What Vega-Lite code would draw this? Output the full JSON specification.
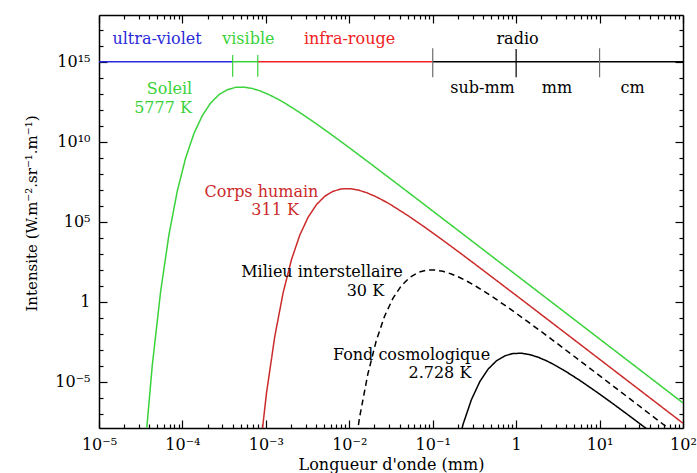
{
  "$schema": "https://vega.github.io/schema/vega-lite/v6.json",
  "width": 584,
  "height": 413,
  "autosize": "none",
  "padding": {"left": 99, "top": 15, "right": 14, "bottom": 45},
  "background": "white",
  "config": {
    "font": "DejaVu Serif",
    "view": {"stroke": null},
    "axis": {
      "grid": false,
      "domainColor": "#000000",
      "domainWidth": 1.5,
      "tickColor": "#000000",
      "tickWidth": 1.2,
      "labelColor": "#000000",
      "titleColor": "#000000",
      "labelFont": "DejaVu Serif",
      "titleFont": "DejaVu Serif",
      "labelFontSize": 16,
      "titleFontSize": 16,
      "titleFontWeight": "normal"
    }
  },
  "datasets": {
    "curves": [
      {"body": "Soleil", "lambda_mm": 3.454e-5, "intensity": 1.168e-10},
      {"body": "Soleil", "lambda_mm": 4.348e-5, "intensity": 1.020e-4},
      {"body": "Soleil", "lambda_mm": 5.474e-5, "intensity": 4.212},
      {"body": "Soleil", "lambda_mm": 6.891e-5, "intensity": 1.543e4},
      {"body": "Soleil", "lambda_mm": 8.676e-5, "intensity": 8.25e6},
      {"body": "Soleil", "lambda_mm": 1.0922e-4, "intensity": 9.58e8},
      {"body": "Soleil", "lambda_mm": 1.375e-4, "intensity": 3.30e10},
      {"body": "Soleil", "lambda_mm": 1.731e-4, "intensity": 4.32e11},
      {"body": "Soleil", "lambda_mm": 2.1792e-4, "intensity": 2.64e12},
      {"body": "Soleil", "lambda_mm": 2.7435e-4, "intensity": 8.74e12},
      {"body": "Soleil", "lambda_mm": 3.4539e-4, "intensity": 1.79e13},
      {"body": "Soleil", "lambda_mm": 4.3481e-4, "intensity": 2.50e13},
      {"body": "Soleil", "lambda_mm": 5.4739e-4, "intensity": 2.59e13},
      {"body": "Soleil", "lambda_mm": 6.8913e-4, "intensity": 2.12e13},
      {"body": "Soleil", "lambda_mm": 8.6756e-4, "intensity": 1.46e13},
      {"body": "Soleil", "lambda_mm": 1.0922e-3, "intensity": 8.73e12},
      {"body": "Soleil", "lambda_mm": 1.375e-3, "intensity": 4.74e12},
      {"body": "Soleil", "lambda_mm": 1.731e-3, "intensity": 2.38e12},
      {"body": "Soleil", "lambda_mm": 2.1792e-3, "intensity": 1.13e12},
      {"body": "Soleil", "lambda_mm": 2.7435e-3, "intensity": 5.18e11},
      {"body": "Soleil", "lambda_mm": 3.4539e-3, "intensity": 2.29e11},
      {"body": "Soleil", "lambda_mm": 4.3481e-3, "intensity": 9.91e10},
      {"body": "Soleil", "lambda_mm": 5.4739e-3, "intensity": 4.21e10},
      {"body": "Soleil", "lambda_mm": 6.8913e-3, "intensity": 1.76e10},
      {"body": "Soleil", "lambda_mm": 8.6756e-3, "intensity": 7.29e9},
      {"body": "Soleil", "lambda_mm": 1.0922e-2, "intensity": 2.99e9},
      {"body": "Soleil", "lambda_mm": 1.375e-2, "intensity": 1.22e9},
      {"body": "Soleil", "lambda_mm": 1.731e-2, "intensity": 4.95e8},
      {"body": "Soleil", "lambda_mm": 5.4739e-2, "intensity": 5.21e6},
      {"body": "Soleil", "lambda_mm": 0.1731, "intensity": 5.29e4},
      {"body": "Soleil", "lambda_mm": 0.54739, "intensity": 531.5},
      {"body": "Soleil", "lambda_mm": 1.731, "intensity": 5.323},
      {"body": "Soleil", "lambda_mm": 5.4739, "intensity": 5.327e-2},
      {"body": "Soleil", "lambda_mm": 17.31, "intensity": 5.327e-4},
      {"body": "Soleil", "lambda_mm": 54.739, "intensity": 5.327e-6},
      {"body": "Soleil", "lambda_mm": 100, "intensity": 4.782e-7},

      {"body": "Corps humain", "lambda_mm": 8.077e-4, "intensity": 4.612e-11},
      {"body": "Corps humain", "lambda_mm": 1.0168e-3, "intensity": 1.905e-6},
      {"body": "Corps humain", "lambda_mm": 1.2801e-3, "intensity": 6.982e-3},
      {"body": "Corps humain", "lambda_mm": 1.6115e-3, "intensity": 3.731},
      {"body": "Corps humain", "lambda_mm": 2.0288e-3, "intensity": 433.4},
      {"body": "Corps humain", "lambda_mm": 2.5541e-3, "intensity": 1.492e4},
      {"body": "Corps humain", "lambda_mm": 3.2154e-3, "intensity": 1.953e5},
      {"body": "Corps humain", "lambda_mm": 4.0479e-3, "intensity": 1.193e6},
      {"body": "Corps humain", "lambda_mm": 5.0961e-3, "intensity": 3.952e6},
      {"body": "Corps humain", "lambda_mm": 6.4157e-3, "intensity": 8.087e6},
      {"body": "Corps humain", "lambda_mm": 8.0768e-3, "intensity": 1.132e7},
      {"body": "Corps humain", "lambda_mm": 1.0168e-2, "intensity": 1.171e7},
      {"body": "Corps humain", "lambda_mm": 1.2801e-2, "intensity": 9.596e6},
      {"body": "Corps humain", "lambda_mm": 1.6115e-2, "intensity": 6.582e6},
      {"body": "Corps humain", "lambda_mm": 2.0288e-2, "intensity": 3.947e6},
      {"body": "Corps humain", "lambda_mm": 2.5541e-2, "intensity": 2.141e6},
      {"body": "Corps humain", "lambda_mm": 3.2154e-2, "intensity": 1.078e6},
      {"body": "Corps humain", "lambda_mm": 5.0961e-2, "intensity": 2.344e5},
      {"body": "Corps humain", "lambda_mm": 8.0768e-2, "intensity": 4.482e4},
      {"body": "Corps humain", "lambda_mm": 0.12801, "intensity": 7962},
      {"body": "Corps humain", "lambda_mm": 0.20288, "intensity": 1353},
      {"body": "Corps humain", "lambda_mm": 0.32154, "intensity": 224.0},
      {"body": "Corps humain", "lambda_mm": 1.0168, "intensity": 2.354},
      {"body": "Corps humain", "lambda_mm": 3.2154, "intensity": 2.392e-2},
      {"body": "Corps humain", "lambda_mm": 10.168, "intensity": 2.403e-4},
      {"body": "Corps humain", "lambda_mm": 32.154, "intensity": 2.407e-6},
      {"body": "Corps humain", "lambda_mm": 100, "intensity": 2.574e-8},

      {"body": "Milieu interstellaire", "lambda_mm": 1.0541e-2, "intensity": 1.591e-11},
      {"body": "Milieu interstellaire", "lambda_mm": 1.327e-2, "intensity": 5.830e-8},
      {"body": "Milieu interstellaire", "lambda_mm": 1.6706e-2, "intensity": 3.115e-5},
      {"body": "Milieu interstellaire", "lambda_mm": 2.1032e-2, "intensity": 3.619e-3},
      {"body": "Milieu interstellaire", "lambda_mm": 2.6478e-2, "intensity": 0.1246},
      {"body": "Milieu interstellaire", "lambda_mm": 3.3333e-2, "intensity": 1.631},
      {"body": "Milieu interstellaire", "lambda_mm": 4.1963e-2, "intensity": 9.968},
      {"body": "Milieu interstellaire", "lambda_mm": 5.283e-2, "intensity": 33.01},
      {"body": "Milieu interstellaire", "lambda_mm": 6.651e-2, "intensity": 67.55},
      {"body": "Milieu interstellaire", "lambda_mm": 8.3703e-2, "intensity": 94.54},
      {"body": "Milieu interstellaire", "lambda_mm": 0.10541, "intensity": 97.77},
      {"body": "Milieu interstellaire", "lambda_mm": 0.1327, "intensity": 80.15},
      {"body": "Milieu interstellaire", "lambda_mm": 0.16706, "intensity": 54.97},
      {"body": "Milieu interstellaire", "lambda_mm": 0.21032, "intensity": 32.97},
      {"body": "Milieu interstellaire", "lambda_mm": 0.26478, "intensity": 17.88},
      {"body": "Milieu interstellaire", "lambda_mm": 0.33333, "intensity": 9.00},
      {"body": "Milieu interstellaire", "lambda_mm": 0.5283, "intensity": 1.957},
      {"body": "Milieu interstellaire", "lambda_mm": 0.83703, "intensity": 0.3744},
      {"body": "Milieu interstellaire", "lambda_mm": 1.327, "intensity": 0.0665},
      {"body": "Milieu interstellaire", "lambda_mm": 2.1032, "intensity": 0.0113},
      {"body": "Milieu interstellaire", "lambda_mm": 3.3333, "intensity": 1.871e-3},
      {"body": "Milieu interstellaire", "lambda_mm": 10.541, "intensity": 1.966e-5},
      {"body": "Milieu interstellaire", "lambda_mm": 33.333, "intensity": 1.998e-7},
      {"body": "Milieu interstellaire", "lambda_mm": 100, "intensity": 2.478e-9},

      {"body": "Fond cosmologique", "lambda_mm": 0.18372, "intensity": 1.937e-10},
      {"body": "Fond cosmologique", "lambda_mm": 0.23129, "intensity": 2.250e-8},
      {"body": "Fond cosmologique", "lambda_mm": 0.29118, "intensity": 7.747e-7},
      {"body": "Fond cosmologique", "lambda_mm": 0.36657, "intensity": 1.014e-5},
      {"body": "Fond cosmologique", "lambda_mm": 0.46148, "intensity": 6.197e-5},
      {"body": "Fond cosmologique", "lambda_mm": 0.58098, "intensity": 2.052e-4},
      {"body": "Fond cosmologique", "lambda_mm": 0.73142, "intensity": 4.200e-4},
      {"body": "Fond cosmologique", "lambda_mm": 0.9208, "intensity": 5.878e-4},
      {"body": "Fond cosmologique", "lambda_mm": 1.1592, "intensity": 6.079e-4},
      {"body": "Fond cosmologique", "lambda_mm": 1.4593, "intensity": 4.983e-4},
      {"body": "Fond cosmologique", "lambda_mm": 1.8372, "intensity": 3.418e-4},
      {"body": "Fond cosmologique", "lambda_mm": 2.3129, "intensity": 2.050e-4},
      {"body": "Fond cosmologique", "lambda_mm": 2.9118, "intensity": 1.112e-4},
      {"body": "Fond cosmologique", "lambda_mm": 3.6657, "intensity": 5.596e-5},
      {"body": "Fond cosmologique", "lambda_mm": 5.8098, "intensity": 1.217e-5},
      {"body": "Fond cosmologique", "lambda_mm": 9.208, "intensity": 2.327e-6},
      {"body": "Fond cosmologique", "lambda_mm": 14.593, "intensity": 4.135e-7},
      {"body": "Fond cosmologique", "lambda_mm": 23.129, "intensity": 7.025e-8},
      {"body": "Fond cosmologique", "lambda_mm": 36.657, "intensity": 1.163e-8},
      {"body": "Fond cosmologique", "lambda_mm": 65.188, "intensity": 1.201e-9}
    ],
    "bands": [
      {"band": "ultra-violet", "from_mm": 1e-5, "to_mm": 4e-4, "level": 1e15},
      {"band": "visible", "from_mm": 4e-4, "to_mm": 8e-4, "level": 1e15},
      {"band": "infra-rouge", "from_mm": 8e-4, "to_mm": 0.1, "level": 1e15},
      {"band": "radio", "from_mm": 0.1, "to_mm": 100, "level": 1e15}
    ],
    "limits": [
      {"band": "visible", "limit_mm": 4e-4, "low": 1.15e14, "high": 2.6e15},
      {"band": "visible", "limit_mm": 8e-4, "low": 1.15e14, "high": 2.6e15},
      {"band": "radio sub-band", "limit_mm": 0.1, "low": 1.07e14, "high": 6.9e15},
      {"band": "radio", "limit_mm": 1, "low": 1.07e14, "high": 6.2e15},
      {"band": "radio sub-band", "limit_mm": 10, "low": 1.07e14, "high": 6.9e15}
    ],
    "labels": [
      {"text": "ultra-violet", "group": "ultra-violet", "x": 4.96e-5, "y": 1.22e16},
      {"text": "visible", "group": "visible", "x": 6.17e-4, "y": 1.22e16},
      {"text": "infra-rouge", "group": "infra-rouge", "x": 0.01007, "y": 1.22e16},
      {"text": "radio", "group": "radio", "x": 1.04, "y": 1.22e16},
      {"text": "sub-mm", "group": "radio", "x": 0.395, "y": 1.15e13},
      {"text": "mm", "group": "radio", "x": 3.09, "y": 1.15e13},
      {"text": "cm", "group": "radio", "x": 24.8, "y": 1.15e13},
      {"text": "Soleil", "group": "Soleil", "x": 7.0e-5, "y": 9.55e12},
      {"text": "5777 K", "group": "Soleil", "x": 5.85e-5, "y": 6.22e11},
      {"text": "Corps humain", "group": "Corps humain", "x": 8.87e-4, "y": 3.65e6},
      {"text": "311 K", "group": "Corps humain", "x": 1.29e-3, "y": 2.62e5},
      {"text": "Milieu interstellaire", "group": "Milieu interstellaire", "x": 4.71e-3, "y": 36.5},
      {"text": "30 K", "group": "Milieu interstellaire", "x": 0.0156, "y": 2.37},
      {"text": "Fond cosmologique", "group": "Fond cosmologique", "x": 0.0557, "y": 2.27e-4},
      {"text": "2.728 K", "group": "Fond cosmologique", "x": 0.122, "y": 1.63e-5}
    ]
  },
  "layer": [
    {
      "data": {"name": "curves"},
      "mark": {"type": "line", "clip": true, "strokeWidth": 1.5},
      "encoding": {
        "x": {
          "field": "lambda_mm", "type": "quantitative",
          "scale": {"type": "log", "domain": [1e-5, 100], "nice": false},
          "axis": {
            "orient": "bottom",
            "values": [1e-5,2e-5,3e-5,4e-5,5e-5,6e-5,7e-5,8e-5,9e-5,1e-4,2e-4,3e-4,4e-4,5e-4,6e-4,7e-4,8e-4,9e-4,0.001,0.002,0.003,0.004,0.005,0.006,0.007,0.008,0.009,0.01,0.02,0.03,0.04,0.05,0.06,0.07,0.08,0.09,0.1,0.2,0.3,0.4,0.5,0.6,0.7,0.8,0.9,1,2,3,4,5,6,7,8,9,10,20,30,40,50,60,70,80,90,100],
            "labelExpr": "abs(log(datum.value)/LN10 - round(log(datum.value)/LN10)) > 0.001 ? '' : datum.value < 2e-5 ? '10⁻⁵' : datum.value < 2e-4 ? '10⁻⁴' : datum.value < 2e-3 ? '10⁻³' : datum.value < 2e-2 ? '10⁻²' : datum.value < 0.2 ? '10⁻¹' : datum.value < 2 ? '1' : datum.value < 20 ? '10¹' : '10²'",
            "tickSize": {"condition": {"test": "abs(log(datum.value)/LN10 - round(log(datum.value)/LN10)) < 0.001", "value": -8}, "value": -4},
            "labelPadding": 16,
            "labelFlush": false,
            "labelOverlap": false,
            "title": "Longueur d'onde (mm)",
            "titleBaseline": "alphabetic",
            "titleY": 41
          }
        },
        "y": {
          "field": "intensity", "type": "quantitative",
          "scale": {"type": "log", "domain": [1.3e-8, 8.3e17], "nice": false},
          "axis": {
            "orient": "left",
            "values": [1e-7,1e-6,1e-5,1e-4,1e-3,1e-2,1e-1,1,10,100,1e3,1e4,1e5,1e6,1e7,1e8,1e9,1e10,1e11,1e12,1e13,1e14,1e15,1e16,1e17],
            "labelExpr": "round(log(datum.value)/LN10) % 5 != 0 ? '' : datum.value > 1e14 ? '10¹⁵' : datum.value > 1e9 ? '10¹⁰' : datum.value > 1e4 ? '10⁵' : datum.value > 0.1 ? '1' : '10⁻⁵'",
            "tickSize": {"condition": {"test": "round(log(datum.value)/LN10) % 5 == 0", "value": -8}, "value": -4},
            "labelPadding": 17,
            "labelOverlap": false,
            "labelFlush": false,
            "title": "Intensite (W.m⁻².sr⁻¹.m⁻¹)",
            "titleFontSize": 15,
            "titleAngle": -90,
            "titleBaseline": "alphabetic",
            "titleX": -63,
            "titleY": 198
          }
        },
        "color": {
          "field": "body", "type": "nominal",
          "scale": {"domain": ["ultra-violet","visible","infra-rouge","radio","radio sub-band","Soleil","Corps humain","Milieu interstellaire","Fond cosmologique"], "range": ["#2a2ad8","#3ad23a","#ee2222","#000000","#6e6e6e","#3ad23a","#cc2b2b","#000000","#000000"]},
          "legend": null
        },
        "strokeDash": {
          "field": "body", "type": "nominal",
          "scale": {"domain": ["Soleil","Corps humain","Milieu interstellaire","Fond cosmologique"], "range": [[1,0],[1,0],[6,4],[1,0]]},
          "legend": null
        }
      }
    },
    {
      "data": {"name": "bands"},
      "mark": {"type": "rule", "strokeWidth": 1.5},
      "encoding": {
        "x": {
          "field": "from_mm", "type": "quantitative",
          "scale": {"type": "log", "domain": [1e-5, 100], "nice": false},
          "axis": {
            "orient": "top",
            "values": [1e-5,2e-5,3e-5,4e-5,5e-5,6e-5,7e-5,8e-5,9e-5,1e-4,2e-4,3e-4,4e-4,5e-4,6e-4,7e-4,8e-4,9e-4,0.001,0.002,0.003,0.004,0.005,0.006,0.007,0.008,0.009,0.01,0.02,0.03,0.04,0.05,0.06,0.07,0.08,0.09,0.1,0.2,0.3,0.4,0.5,0.6,0.7,0.8,0.9,1,2,3,4,5,6,7,8,9,10,20,30,40,50,60,70,80,90,100],
            "labels": false,
            "tickSize": {"condition": {"test": "abs(log(datum.value)/LN10 - round(log(datum.value)/LN10)) < 0.001", "value": -8}, "value": -4},
            "title": null
          }
        },
        "x2": {"field": "to_mm"},
        "y": {
          "field": "level", "type": "quantitative",
          "scale": {"type": "log", "domain": [1.3e-8, 8.3e17], "nice": false},
          "axis": {
            "orient": "right",
            "values": [1e-7,1e-6,1e-5,1e-4,1e-3,1e-2,1e-1,1,10,100,1e3,1e4,1e5,1e6,1e7,1e8,1e9,1e10,1e11,1e12,1e13,1e14,1e15,1e16,1e17],
            "labels": false,
            "tickSize": {"condition": {"test": "round(log(datum.value)/LN10) % 5 == 0", "value": -8}, "value": -4},
            "title": null
          }
        },
        "color": {
          "field": "band", "type": "nominal",
          "scale": {"domain": ["ultra-violet","visible","infra-rouge","radio","radio sub-band","Soleil","Corps humain","Milieu interstellaire","Fond cosmologique"], "range": ["#2a2ad8","#3ad23a","#ee2222","#000000","#6e6e6e","#3ad23a","#cc2b2b","#000000","#000000"]},
          "legend": null
        }
      }
    },
    {
      "data": {"name": "limits"},
      "mark": {"type": "rule", "strokeWidth": 1.2},
      "encoding": {
        "x": {"field": "limit_mm", "type": "quantitative", "scale": {"type": "log", "domain": [1e-5, 100], "nice": false}, "axis": null},
        "y": {"field": "low", "type": "quantitative", "scale": {"type": "log", "domain": [1.3e-8, 8.3e17], "nice": false}, "axis": null},
        "y2": {"field": "high"},
        "color": {
          "field": "band", "type": "nominal",
          "scale": {"domain": ["ultra-violet","visible","infra-rouge","radio","radio sub-band","Soleil","Corps humain","Milieu interstellaire","Fond cosmologique"], "range": ["#2a2ad8","#3ad23a","#ee2222","#000000","#6e6e6e","#3ad23a","#cc2b2b","#000000","#000000"]},
          "legend": null
        }
      }
    },
    {
      "data": {"name": "labels"},
      "mark": {"type": "text", "font": "DejaVu Serif", "fontSize": 16, "align": "center", "baseline": "alphabetic"},
      "encoding": {
        "x": {"field": "x", "type": "quantitative", "scale": {"type": "log", "domain": [1e-5, 100], "nice": false}, "axis": null},
        "y": {"field": "y", "type": "quantitative", "scale": {"type": "log", "domain": [1.3e-8, 8.3e17], "nice": false}, "axis": null},
        "text": {"field": "text"},
        "color": {
          "field": "group", "type": "nominal",
          "scale": {"domain": ["ultra-violet","visible","infra-rouge","radio","radio sub-band","Soleil","Corps humain","Milieu interstellaire","Fond cosmologique"], "range": ["#2a2ad8","#3ad23a","#ee2222","#000000","#6e6e6e","#3ad23a","#cc2b2b","#000000","#000000"]},
          "legend": null
        }
      }
    }
  ],
  "resolve": {"axis": {"x": "independent", "y": "independent"}}
}
